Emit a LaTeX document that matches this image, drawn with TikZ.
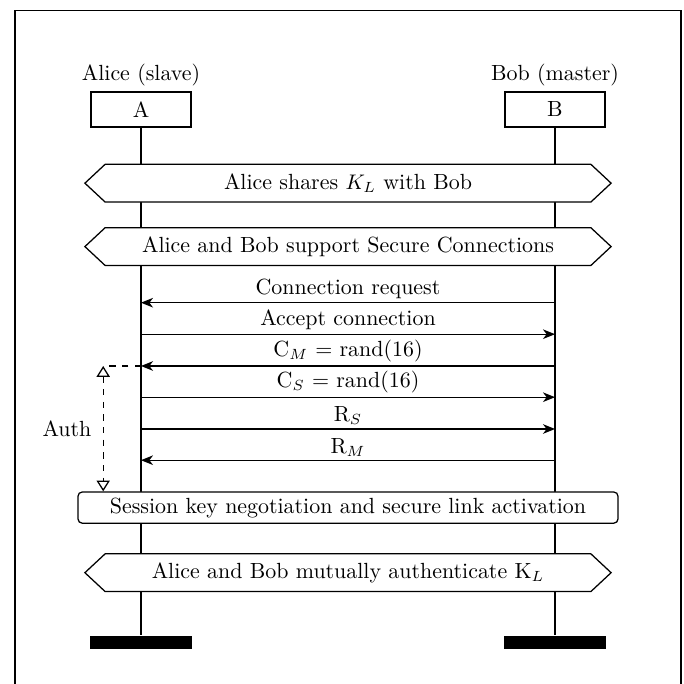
\documentclass[tikz,border=0pt]{standalone}
\usepackage{tikz}
\usetikzlibrary{arrows.meta,shapes.symbols}

\tikzset{
  entity/.style={draw, semithick, minimum width=1.67cm, minimum height=0.58cm, inner sep=0pt},
  endbar/.style={fill=black, minimum width=1.7cm, minimum height=0.23cm, inner sep=0pt},
  phase/.style={draw, semithick, signal, signal to=west and east, signal pointer angle=86,
    minimum width=8.77cm, minimum height=0.63cm, inner sep=0pt, fill=white},
  action/.style={draw, semithick, rounded corners=2pt, minimum width=9cm, minimum height=0.52cm,
    inner sep=0pt, fill=white},
  msg/.style={semithick, -{Stealth[length=2mm, width=1.6mm, inset=0.6mm]}},
}

\begin{document}
\begin{tikzpicture}[font=\fontsize{10.4}{12.5}\selectfont]
			%%%%% START %%%%%
			\useasboundingbox (0, 0) rectangle (11.4, 11.4);
			
			\draw[semithick] (0.25, -0.2) -- (0.25, 11.22) -- (11.35, 11.22) -- (11.35, -0.2);
			
			% instances
			\node[entity] (A) at (2.35, 9.575) {A};
			\node[entity] (B) at (9.25, 9.575) {B};
			\node[above=-1pt] (Aname) at (A.north) {Alice (slave)};
			\node[above=-1pt] (Bname) at (B.north) {Bob (master)};
			
			\node[endbar] (Aend) at (2.35, 0.69) {};
			\node[endbar] (Bend) at (9.25, 0.69) {};
			
			\draw[semithick] (A) -- (Aend);
			\draw[semithick] (B) -- (Bend);
			
			% message levels
			\foreach \i/\y in {1/6.355, 2/5.83, 3/5.30, 4/4.78, 5/4.25, 6/3.73}{
				\coordinate (a\i) at (2.35, \y);
				\coordinate (b\i) at (9.25, \y);
			}
			
			\node[phase] (p1) at (5.8, 8.347) {Alice shares $K_L$ with Bob};
			\node[phase] (p2) at (5.8, 7.29) {Alice and Bob support Secure Connections};
			
			\draw[msg] (b1) -- node[above, inner sep=1.6pt] {Connection request} (a1);
			\draw[msg] (a2) -- node[above, inner sep=1.6pt] {Accept connection} (b2);
			\draw[msg] (b3) -- node[above, inner sep=1.6pt] {C$_M$ = rand(16)} (a3);
			\draw[msg] (a4) -- node[above, inner sep=1.6pt] {C$_S$ = rand(16)} (b4);
			\draw[msg] (a5) -- node[above, inner sep=1.6pt] {R$_S$} (b5);
			\draw[msg] (b6) -- node[above, inner sep=1.6pt] {R$_M$} (a6);
			
			\node[action] (skey) at (5.8, 2.94) {Session key negotiation and secure link activation};
			
			% auth bracket
			\coordinate (authtop) at (1.72, 5.30);
			\draw[semithick, dashed] (a3) -- (authtop);
			\draw[semithick, dashed, {Triangle[open, length=1.8mm, width=2.2mm]}-{Triangle[open, length=1.8mm, width=2.2mm]}]
				(authtop) -- (authtop |- skey.north) node[midway, left=2pt] (auth) {Auth};
			
			\node[phase] (p3) at (5.8, 1.855) {Alice and Bob mutually authenticate K$_L$};
			
			%%%%% END %%%%%
\end{tikzpicture}
\end{document}
